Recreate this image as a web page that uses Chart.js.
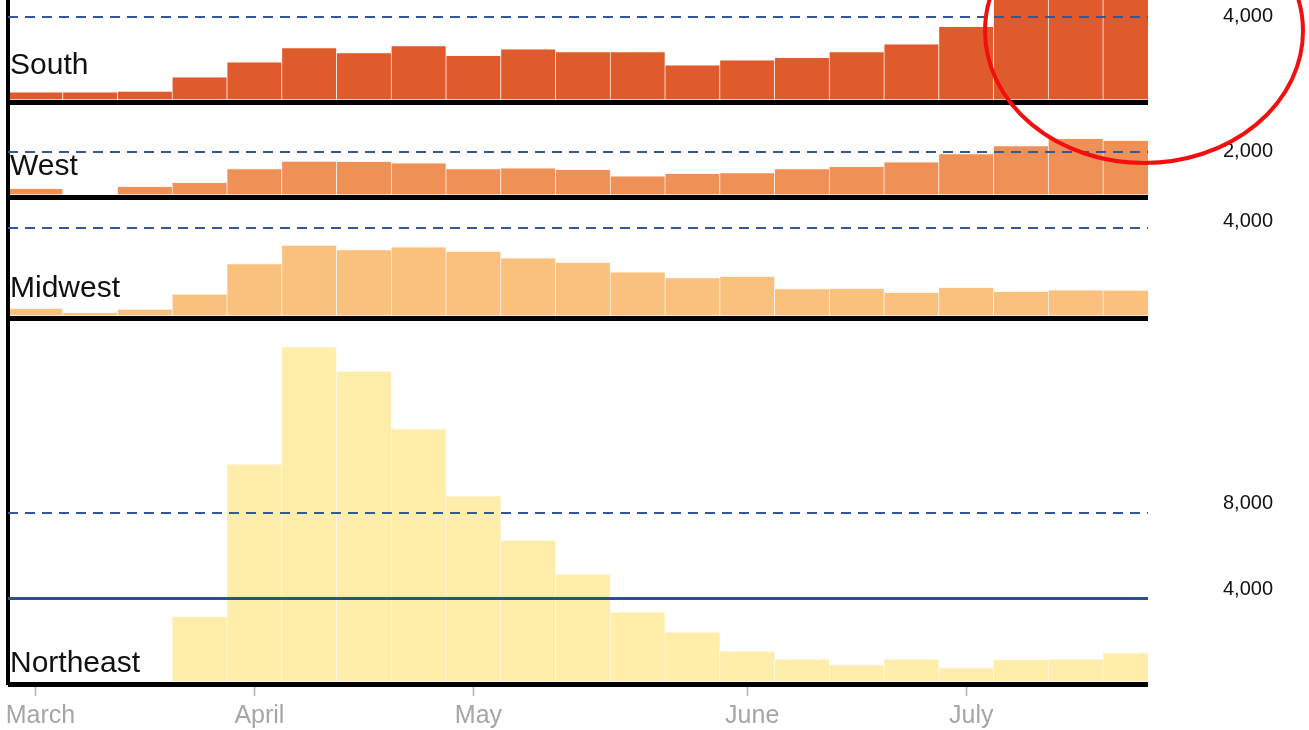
<!DOCTYPE html>
<html>
<head>
<meta charset="utf-8">
<title>Weekly deaths by region</title>
<script src="https://cdn.jsdelivr.net/npm/chart.js@4.4.1/dist/chart.umd.min.js"></script>
<style>
  html, body { margin: 0; padding: 0; background: #fff; }
  #wrap { position: relative; width: 1309px; height: 730px; }
</style>
</head>
<body>
<div id="wrap"><canvas id="regionChart"></canvas></div>
<script>
// weeks (start dates), one bar per week
const weeks = ['Mar 1', 'Mar 8', 'Mar 15', 'Mar 22', 'Mar 29', 'Apr 5', 'Apr 12', 'Apr 19', 'Apr 26',
  'May 3', 'May 10', 'May 17', 'May 24', 'May 31', 'Jun 7', 'Jun 14', 'Jun 21', 'Jun 28',
  'Jul 5', 'Jul 12', 'Jul 19'];
// month labels sit on the week holding the 1st of the month
const monthTickWeeks = [0, 4, 8, 13, 17];
const monthNames = ['March', 'April', 'May', 'June', 'July'];

const regions = ['South', 'West', 'Midwest', 'Northeast'];
const south = [480, 480, 520, 1190, 1900, 2570, 2330, 2670, 2200, 2510, 2380, 2380, 1760, 1990, 2110, 2380, 2750, 3570, 5900, 6300, 6400];
const west = [390, 0, 480, 660, 1270, 1610, 1600, 1530, 1270, 1310, 1240, 950, 1060, 1090, 1270, 1370, 1570, 1940, 2300, 2630, 2540];
const midwest = [430, 250, 400, 1060, 2410, 3230, 3030, 3150, 2950, 2660, 2470, 2050, 1790, 1850, 1300, 1310, 1140, 1360, 1180, 1250, 1240];
const northeast = [0, 0, 80, 3150, 10270, 15750, 14610, 11920, 8790, 6710, 5140, 3360, 2430, 1540, 1170, 890, 1170, 760, 1140, 1170, 1460];

// tick values shown on the right of each panel
const southTicks = [0, 4000];
const westTicks = [0, 2000];
const midwestTicks = [0, 4000];
const northeastTicks = [0, 4000, 8000];

const BLUE = '#34579a';
const labelLift = [28, 22, 21, 12];   // how far region names sit above each baseline

function regionAxis(tickValues, max, weight, solidValues, labelShift) {
  const isSolid = ctx => ctx.tick && (ctx.tick.value === 0 || solidValues.includes(ctx.tick.value));
  return {
    type: 'linear',
    position: 'right',
    stack: 'regions',
    stackWeight: weight,
    min: 0,
    max: max,
    afterBuildTicks: axis => { axis.ticks = tickValues.map(v => ({ value: v })); },
    afterFit: axis => { axis.width = 161; axis.paddingTop = 0; axis.paddingBottom = 0; },
    grid: {
      drawTicks: false,
      z: 1,
      color: ctx => (ctx.tick && ctx.tick.value === 0) ? '#000' : (isSolid(ctx) ? '#2d4f92' : BLUE),
      lineWidth: ctx => (ctx.tick && ctx.tick.value === 0) ? 5 : (isSolid(ctx) ? 3 : 2)
    },
    border: {
      display: false,
      dash: ctx => isSolid(ctx) ? [] : [10, 7]
    },
    ticks: {
      padding: 75,
      labelOffset: labelShift,
      color: '#111',
      font: { family: '"Liberation Sans", Arial, sans-serif', size: 20 },
      callback: v => v === 0 ? '' : v.toLocaleString('en-US')
    }
  };
}

function regionDataset(label, values, color, axisId) {
  return {
    label: label,
    data: values.map((v, i) => ({ x: i, y: v })),
    yAxisID: axisId,
    backgroundColor: color,
    borderColor: '#fff6ee',
    borderWidth: { top: 1, left: 0.7, right: 0.7, bottom: 0 },
    grouped: false,
    barPercentage: 1,
    categoryPercentage: 1
  };
}

const overlayPlugin = {
  id: 'overlay',
  afterDatasetsDraw(chart) {
    const { ctx, chartArea } = chart;
    ctx.save();
    ctx.font = '30px "Liberation Sans", Arial, sans-serif';
    ctx.fillStyle = '#111';
    ctx.textBaseline = 'alphabetic';
    chart.data.datasets.forEach((ds, i) => {
      const scale = chart.scales[ds.yAxisID];
      ctx.fillText(ds.label, chartArea.left + 2, scale.bottom - labelLift[i]);
    });
    ctx.restore();
  },
  afterDraw(chart) {
    // red ring drawn over the top-right corner
    const { ctx, chartArea } = chart;
    ctx.save();
    ctx.strokeStyle = '#f40f0f';
    ctx.lineWidth = 4;
    ctx.beginPath();
    ctx.ellipse(chartArea.right - 4, chartArea.top + 31, 159, 132, 0, 0, Math.PI * 2);
    ctx.stroke();
    ctx.restore();
  }
};

const ctx = document.getElementById('regionChart').getContext('2d');
new Chart(ctx, {
  type: 'bar',
  data: {
    labels: weeks,
    datasets: [
      regionDataset(regions[0], south, '#e05b2c', 'ySouth'),
      regionDataset(regions[1], west, '#ef9156', 'yWest'),
      regionDataset(regions[2], midwest, '#f9c17d', 'yMidwest'),
      regionDataset(regions[3], northeast, '#feeeaa', 'yNortheast')
    ]
  },
  options: {
    responsive: true,
    maintainAspectRatio: false,
    animation: false,
    layout: { padding: 0 },
    plugins: {
      legend: { display: false },
      tooltip: { enabled: false }
    },
    scales: {
      x: {
        type: 'linear',
        min: -0.5,
        max: 20.32,
        offset: false,
        afterBuildTicks: axis => { axis.ticks = monthTickWeeks.map(v => ({ value: v })); },
        afterFit: axis => { axis.height = 46; axis.paddingLeft = 0; axis.paddingRight = 0; },
        grid: { offset: false, drawOnChartArea: false, tickLength: 12, tickColor: '#b3b3b3', tickWidth: 1.5 },
        border: { display: false },
        ticks: {
          padding: 5,
          labelOffset: 5,
          autoSkip: false,
          maxRotation: 0,
          color: '#a6a6a6',
          font: { family: '"Liberation Sans", Arial, sans-serif', size: 25 },
          callback: v => monthNames[monthTickWeeks.indexOf(v)]
        }
      },
      yEdge: {
        type: 'linear',
        position: 'left',
        min: 0,
        max: 1,
        afterFit: axis => { axis.width = 8; axis.paddingTop = 0; axis.paddingBottom = 0; },
        grid: { drawOnChartArea: false, drawTicks: false, color: 'rgba(0,0,0,0)' },
        ticks: { display: false },
        border: { display: true, color: '#000', width: 4, z: 1 }
      },
      ySouth: regionAxis(southTicks, 4817, 102, [], -1),
      yWest: regionAxis(westTicks, 4250, 95, [], -1),
      yMidwest: regionAxis(midwestTicks, 5360, 121, [], -6),
      yNortheast: regionAxis(northeastTicks, 17100, 366, [4000], -9)
    }
  },
  plugins: [overlayPlugin]
});
</script>
</body>
</html>
